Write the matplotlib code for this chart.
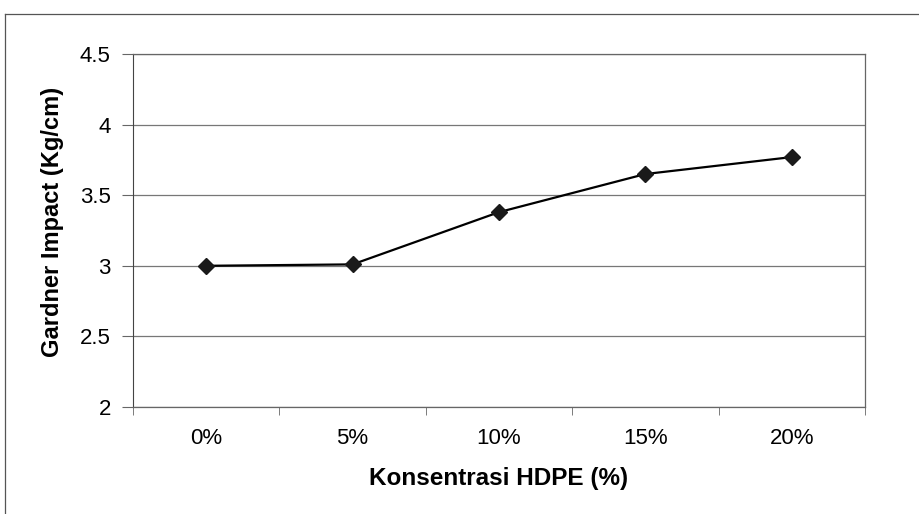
import matplotlib
matplotlib.use('Agg')
import matplotlib.pyplot as plt
from matplotlib.lines import Line2D

# data
konsentrasi = ["0%", "5%", "10%", "15%", "20%"]
impact = [3.0, 3.01, 3.38, 3.65, 3.77]
y_ticks = [2, 2.5, 3, 3.5, 4, 4.5]
y_labels = ["2", "2.5", "3", "3.5", "4", "4.5"]

plt.rcParams['font.family'] = ['Liberation Sans', 'DejaVu Sans']

W, H = 920, 514
fig = plt.figure(figsize=(W / 100, H / 100), dpi=100)
ax = fig.add_axes([133 / W, 1 - 407 / H, 732 / W, 353 / H])

x = list(range(len(konsentrasi)))
ax.plot(x, impact, color='black', linewidth=1.6, marker='D', markersize=8.5,
        markerfacecolor='#1a1a1a', markeredgecolor='#1a1a1a')

ax.set_xlim(-0.5, len(konsentrasi) - 0.5)
ax.set_ylim(2, 4.5)
ax.set_yticks(y_ticks)
ax.set_yticklabels(y_labels)
ax.set_xticks(x)
ax.set_xticklabels(konsentrasi)
ax.set_xticks([i + 0.5 for i in range(-1, len(konsentrasi))], minor=True)

ax.grid(axis='y', color='#777777', linewidth=0.9)
ax.set_axisbelow(True)
for side in ['top', 'right', 'bottom']:
    ax.spines[side].set_color('#666666')
    ax.spines[side].set_linewidth(0.9)
ax.spines['left'].set_color('#444444')

ax.tick_params(axis='x', which='major', length=0, pad=15, labelsize=16)
ax.tick_params(axis='x', which='minor', length=6, color='#666666', direction='out')
ax.tick_params(axis='y', length=8, color='#666666', pad=8, labelsize=16)

# axis titles placed at the positions seen in the reference
fig.text(499 / W, 1 - 478 / H, "Konsentrasi HDPE (%)", fontsize=17.5,
         fontweight='bold', ha='center', va='center')
fig.text(53 / W, 1 - 222 / H, "Gardner Impact (Kg/cm)", fontsize=17,
         fontweight='bold', ha='center', va='center', rotation=90)

# outer chart border (left and top edges visible in the scan)
fig.add_artist(Line2D([5 / W, 5 / W], [0, 1 - 14 / H],
                      transform=fig.transFigure, color='#555555', linewidth=0.9))
fig.add_artist(Line2D([5 / W, 1], [1 - 14 / H, 1 - 14 / H],
                      transform=fig.transFigure, color='#555555', linewidth=0.9))

fig.savefig("out.png", dpi=100)
